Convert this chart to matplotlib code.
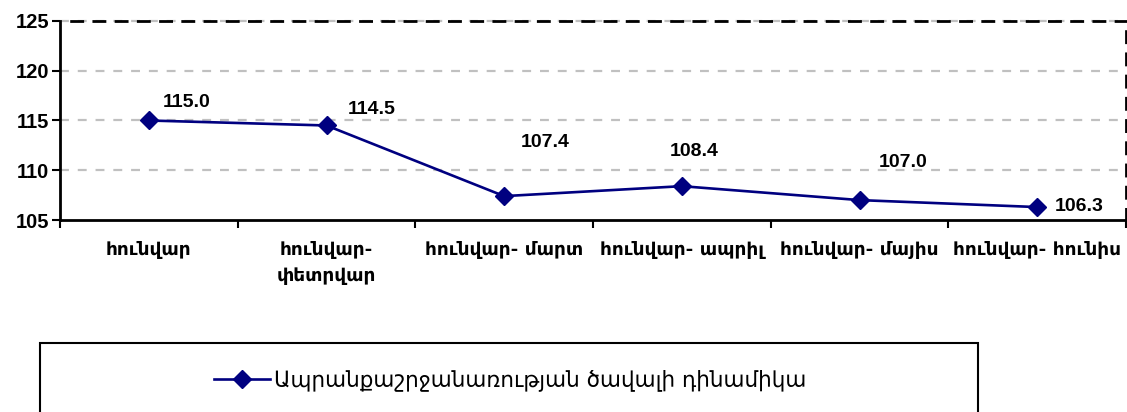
import matplotlib
matplotlib.use("Agg")
import matplotlib.pyplot as plt
from matplotlib.patches import Rectangle
from matplotlib.lines import Line2D

# data
periods = ["հունվար", "հունվար-\nփետրվար", "հունվար- մարտ", "հունվար- ապրիլ",
           "հունվար- մայիս", "հունվար- հունիս"]
values = [115.0, 114.5, 107.4, 108.4, 107.0, 106.3]
series_name = "Ապրանքաշրջանառության ծավալի դինամիկա"
y_ticks = [105, 110, 115, 120, 125]

# label offsets (pixels) relative to each point
label_offsets = [(38, 18), (45, 16), (41, 54), (12, 35), (44, 38), (42, 1)]

NAVY = "#000080"
ARM_FONT = ["DejaVu Sans"]
NUM_FONT = ["Liberation Sans", "DejaVu Sans"]

fig = plt.figure(figsize=(11.27, 4.12), dpi=100)
ax = fig.add_axes([60 / 1127, 192 / 412, 1066 / 1127, 199 / 412])

x = list(range(len(values)))
ax.plot(x, values, color=NAVY, lw=1.9, marker="D", ms=9, mfc=NAVY, mec=NAVY,
        zorder=3, clip_on=False)

for xi, v, (dx, dy) in zip(x, values, label_offsets):
    ax.annotate("%.1f" % v, (xi, v), xytext=(dx, dy), textcoords="offset pixels",
                ha="center", va="center", fontsize=14, fontweight="bold",
                family=NUM_FONT, color="black")

ax.set_xlim(-0.5, len(values) - 0.5)
ax.set_ylim(105, 125)
ax.set_yticks(y_ticks)
ax.set_yticklabels([str(t) for t in y_ticks], fontsize=14.5, fontweight="bold",
                   family=NUM_FONT)

# boundaries as major ticks, labels centred on minor ticks
ax.set_xticks([i - 0.5 for i in range(len(values) + 1)])
ax.set_xticklabels([])
ax.set_xticks(x, minor=True)
ax.set_xticklabels(periods, minor=True, fontsize=13.3, fontweight="bold",
                   family=ARM_FONT, va="top", linespacing=1.55)
ax.tick_params(axis="x", which="major", length=6, width=1.5, direction="out")
ax.tick_params(axis="x", which="minor", length=0, pad=15)
ax.tick_params(axis="y", length=6, width=1.5, direction="out", pad=2)

for y in y_ticks[1:]:
    ax.axhline(y, color="#c0c0c0", lw=1.6, ls=(0, (4, 4)), zorder=1, clip_on=False)

for side in ("left", "bottom"):
    ax.spines[side].set_linewidth(2)
    ax.spines[side].set_color("black")
ax.spines["top"].set_linestyle((4, (4, 4)))
ax.spines["top"].set_linewidth(2)
ax.spines["right"].set_linestyle((0, (4, 4)))
ax.spines["right"].set_linewidth(2)

# legend box
fig.patches.append(Rectangle((40 / 1127, -0.1), 938 / 1127, 0.1 + 69 / 412,
                             transform=fig.transFigure, fill=False,
                             edgecolor="black", lw=1.5))
handle = Line2D([], [], color=NAVY, lw=1.9, marker="D", ms=9, mfc=NAVY, mec=NAVY)
fig.legend([handle], [series_name], loc="center", bbox_to_anchor=(510 / 1127, 32 / 412),
           frameon=False, prop={"family": ARM_FONT, "size": 15.5}, handlelength=2.6,
           handletextpad=0.2)

fig.savefig("out.png", dpi=100)
